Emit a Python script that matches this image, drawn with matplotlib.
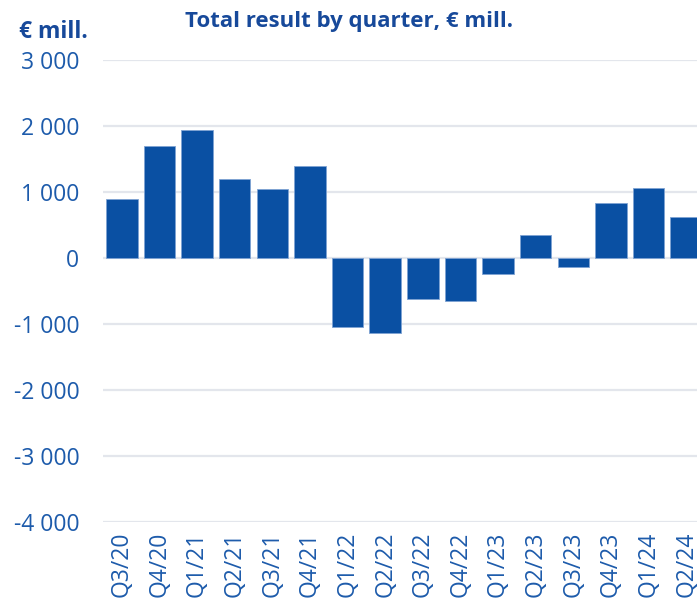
import matplotlib
matplotlib.use("Agg")
import matplotlib.pyplot as plt

quarters = ["Q3/20", "Q4/20", "Q1/21", "Q2/21", "Q3/21", "Q4/21",
            "Q1/22", "Q2/22", "Q3/22", "Q4/22", "Q1/23", "Q2/23",
            "Q3/23", "Q4/23", "Q1/24", "Q2/24"]
results = [900, 1700, 1945, 1200, 1040, 1400,
           -1050, -1140, -620, -650, -240, 345,
           -130, 835, 1065, 620]
yticks = [3000, 2000, 1000, 0, -1000, -2000, -3000, -4000]

bar_color = "#0a50a3"
text_color = "#1d5bab"
title_color = "#17499a"

plt.rcParams['font.family'] = ['Open Sans', 'DejaVu Sans']

fig = plt.figure(figsize=(6.97, 6.03), dpi=100)
# axes runs a little past the right edge, like the original
ax = fig.add_axes([103 / 697, 1 - 522 / 603, 602 / 697, 462 / 603])

ax.bar(range(len(results)), results, width=0.84, color=bar_color,
       edgecolor="#7fa3d3", linewidth=0.6, zorder=3)

ax.set_xlim(-0.5, len(results) - 0.5)
ax.set_ylim(-4000, 3000)
ax.set_yticks(yticks)
ax.set_yticklabels([f"{v:,}".replace(",", " ") for v in yticks])
ax.set_xticks(range(len(quarters)))
ax.set_xticklabels(quarters, rotation=90, va="top")

ax.grid(axis="y", color="#e3e6ec", linewidth=1.6, zorder=0)
for s in ax.spines.values():
    s.set_visible(False)
ax.tick_params(axis="both", length=0, colors=text_color, labelsize=16.5)
ax.tick_params(axis="y", pad=17)
ax.tick_params(axis="x", pad=7)

fig.text(349 / 697, 1 - 22 / 603, "Total result by quarter, € mill.",
         ha="center", va="center", fontsize=16, fontweight="bold", color=title_color)
fig.text(19 / 697, 1 - 32 / 603, "€ mill.", ha="left", va="center",
         fontsize=16.5, fontweight="bold", color=title_color)

fig.savefig("out.png", dpi=100)
